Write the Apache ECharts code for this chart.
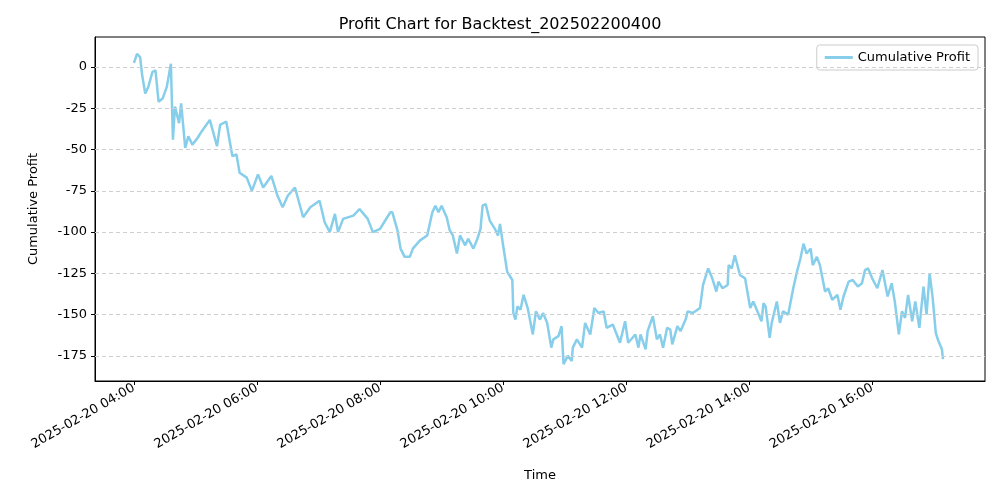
<!doctype html>
<html lang="en">
<head>
    <meta charset="UTF-8">
    <title>Profit Chart</title>
    <style>
        body{ margin:0; }
        #main{ width:1000px; height:500px; }
    </style>
    <script src="https://cdn.jsdelivr.net/npm/echarts@6.0.0/dist/echarts.min.js"></script>
</head>
<body>
<div id="main"></div>
<script>
    // minutes after 2025-02-20 04:00
    var minutes = [0,3,6,8,11,14,18,21,24,28,32,36,38,40,44,46,50,53,57,62,66,74,81,84,90,96,100,103,110,115,121,126,134,140,145,150,157,165,172,181,186,191,196,199,204,214,220,228,233,240,247,250,252,257,260,264,269,272,279,286,291,294,297,300,305,308,311,315,318,323,326,331,335,338,340,343,347,352,355,357,360,364,369,370,372,374,377,380,384,389,392,396,399,403,407,409,414,417,419,423,427,428,432,437,440,445,449,453,458,461,467,474,479,482,489,492,494,499,501,506,510,513,516,520,523,525,530,533,538,540,545,552,555,560,564,568,570,574,579,580,583,586,591,596,601,604,608,612,614,616,620,622,627,630,633,638,643,647,650,653,656,660,662,666,669,674,677,681,686,689,692,697,701,706,710,713,716,720,725,730,735,739,742,746,749,752,755,759,762,766,770,773,776,779,782,784,788,789];
    var profit = [2.5,8,6,-5,-16,-12,-3,-2,-21,-19,-12,2,-44,-24,-34,-22,-49,-42,-47,-43,-39,-32,-48,-35,-33,-54,-53,-64,-67,-75,-65,-73,-66,-78,-85,-78,-73,-91,-85,-81,-94,-100,-89,-100,-92,-90,-86,-92,-100,-98,-91,-88,-88,-99,-110,-115,-115,-110,-105,-102,-88,-84,-88,-84,-91,-99,-102,-113,-102,-108,-104,-110,-104,-98,-84,-83,-93,-98,-102,-95,-108,-124,-129,-149,-153,-145,-147,-138,-146,-162,-148,-153,-149,-155,-170,-165,-163,-157,-180,-175,-178,-170,-165,-170,-155,-162,-146,-149,-148,-158,-156,-167,-154,-167,-162,-170,-162,-171,-160,-151,-165,-162,-170,-158,-159,-168,-157,-160,-153,-148,-149,-146,-132,-122,-128,-136,-130,-134,-132,-120,-122,-114,-126,-128,-146,-142,-148,-154,-143,-145,-164,-155,-142,-155,-148,-150,-134,-123,-116,-107,-113,-110,-120,-115,-120,-136,-134,-141,-138,-147,-139,-130,-129,-133,-131,-123,-122,-128,-134,-123,-139,-131,-142,-162,-148,-152,-138,-154,-142,-158,-133,-150,-125,-140,-161,-165,-171,-177];
    var yTicks = [0, -25, -50, -75, -100, -125, -150, -175];
    var xTicks = [0, 120, 240, 360, 480, 600, 720];

    var chart = echarts.init(document.getElementById('main'));
    var pts = minutes.map(function (m, i) { return [m, profit[i]]; });

    function fmtTime(m) {
        var h = 4 + Math.round(m / 60);
        return '2025-02-20 ' + (h < 10 ? '0' + h : h) + ':00';
    }

    chart.setOption({
        animation: false,
        textStyle: { fontFamily: 'DejaVu Sans', color: '#000' },
        title: {
            text: 'Profit Chart for Backtest_202502200400',
            left: 'center', top: 12,
            textStyle: { fontSize: 16, fontWeight: 'normal', color: '#000', fontFamily: 'DejaVu Sans' }
        },
        legend: {
            right: 22, top: 45,
            itemWidth: 28, itemHeight: 3,
            icon: 'rect',
            borderColor: '#ccc', borderWidth: 1, borderRadius: 3,
            padding: [6, 8],
            textStyle: { fontSize: 13, color: '#000' }
        },
        grid: {
            left: 95, right: 15, top: 37, bottom: 119,
            show: true, borderColor: '#000', borderWidth: 1
        },
        xAxis: {
            type: 'value', min: -38, max: 830,
            name: 'Time', nameLocation: 'middle', nameGap: 88,
            nameTextStyle: { fontSize: 13, color: '#000' },
            splitLine: { show: false },
            axisLine: { show: true, onZero: false, lineStyle: { color: '#000' } },
            axisTick: { show: true, customValues: xTicks, length: 4, lineStyle: { color: '#000' } },
            axisLabel: {
                customValues: xTicks, rotate: 30, fontSize: 13, color: '#000', margin: 6,
                formatter: fmtTime
            }
        },
        yAxis: {
            type: 'value', min: -190.2, max: 18.2,
            name: 'Cumulative Profit', nameLocation: 'middle', nameGap: 55,
            nameTextStyle: { fontSize: 13, color: '#000' },
            splitLine: { show: false },
            axisLine: { show: true, onZero: false, lineStyle: { color: '#000' } },
            axisTick: { show: true, customValues: yTicks, length: 4, lineStyle: { color: '#000' } },
            axisLabel: { customValues: yTicks, fontSize: 13, color: '#000' }
        },
        series: [{
            name: 'Cumulative Profit',
            type: 'line',
            data: pts,
            showSymbol: false,
            color: '#87CEEB',
            lineStyle: { width: 2.5, color: '#87CEEB' },
            markLine: {
                silent: true, symbol: 'none', label: { show: false },
                lineStyle: { color: '#cfcfcf', type: [4, 3], width: 1 },
                data: yTicks.map(function (v) { return { yAxis: v }; })
            },
            z: 3
        }]
    });
</script>
</body>
</html>
